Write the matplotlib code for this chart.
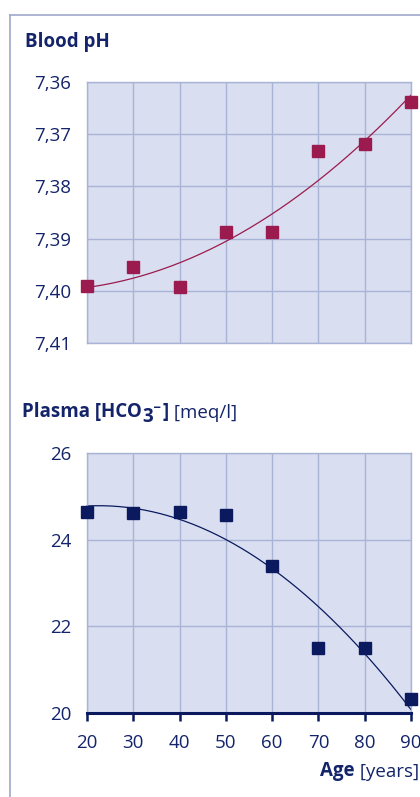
import numpy as np
import matplotlib.pyplot as plt
from matplotlib.lines import Line2D
from matplotlib.ticker import FuncFormatter

# Age groups and measured values
age = [20, 30, 40, 50, 60, 70, 80, 90]
blood_ph = [7.399, 7.3954, 7.3993, 7.3887, 7.3887, 7.3732, 7.3719, 7.3638]
hco3 = [24.65, 24.61, 24.65, 24.56, 23.40, 21.51, 21.51, 20.32]

ph_ticks = [7.36, 7.37, 7.38, 7.39, 7.40, 7.41]
hco3_ticks = [20, 22, 24, 26]

navy = '#14246a'
crimson = '#9b1b4e'
marker_navy = '#0b1a5e'
bg = '#d9dff1'
grid_col = '#a9b3d5'
frame_col = '#9ea8cc'

plt.rcParams['font.family'] = ['Open Sans', 'DejaVu Sans']

fig = plt.figure(figsize=(4.2, 7.97), dpi=100)

# outer frame (left and top edge)
fig.add_artist(Line2D([10 / 420, 1.0], [1 - 15 / 797, 1 - 15 / 797],
                      transform=fig.transFigure, color=frame_col, lw=1.2))
fig.add_artist(Line2D([10 / 420, 10 / 420], [0, 1 - 15 / 797],
                      transform=fig.transFigure, color=frame_col, lw=1.2))

comma = FuncFormatter(lambda v, pos: ('%.2f' % v).replace('.', ','))


def style_axes(ax):
    ax.set_facecolor(bg)
    ax.set_xlim(20, 90)
    ax.set_xticks(age)
    ax.grid(True, color=grid_col, lw=1.0)
    ax.set_axisbelow(True)
    for s in ax.spines.values():
        s.set_color(grid_col)
        s.set_linewidth(1.0)
    ax.tick_params(axis='y', length=0, pad=11.5, labelsize=13.5, labelcolor=navy)


xs = np.linspace(20, 90, 200)

# Blood pH
ax1 = fig.add_axes([87 / 420, 1 - 343 / 797, 324 / 420, 261 / 797])
style_axes(ax1)
ax1.set_ylim(7.41, 7.36)
ax1.set_yticks(ph_ticks)
ax1.yaxis.set_major_formatter(comma)
ax1.tick_params(axis='x', length=0, labelbottom=False)
fit1 = np.polyfit(age, blood_ph, 2)
ax1.plot(xs, np.polyval(fit1, xs), color=crimson, lw=0.9, clip_on=False)
ax1.plot(age, blood_ph, 's', color=crimson, ms=8, clip_on=False, zorder=5)
fig.text(25 / 420, 1 - 42 / 797, 'Blood pH', fontsize=13.5, fontweight='bold',
         color=navy, va='center')

# Plasma bicarbonate
ax2 = fig.add_axes([87 / 420, 1 - 713 / 797, 324 / 420, 260 / 797])
style_axes(ax2)
ax2.set_ylim(20, 26)
ax2.set_yticks(hco3_ticks)
fit2 = np.polyfit(age, hco3, 2)
ax2.plot(xs, np.polyval(fit2, xs), color=marker_navy, lw=0.9, clip_on=False)
ax2.plot(age, hco3, 's', color=marker_navy, ms=8, clip_on=False, zorder=5)
ax2.spines['bottom'].set_color(marker_navy)
ax2.spines['bottom'].set_linewidth(2.2)
ax2.tick_params(axis='x', direction='out', length=6, width=1.8, color=marker_navy,
                labelsize=13.5, labelcolor=navy, pad=9)

head = fig.text(22 / 420, 1 - 412 / 797, 'Plasma [HCO', fontsize=13.5,
                fontweight='bold', color=navy, va='center')
sub = ax2.annotate('3', xy=(1, 0), xycoords=head, xytext=(0.3, -3.5),
                   textcoords='offset points', fontsize=13.5, fontweight='bold',
                   color=navy, va='bottom')
# superscript charge sign, drawn as a short bar right of the subscript
ax2.annotate('\u00af', xy=(1, 0), xycoords=sub, xytext=(0.8, 4.0),
             textcoords='offset points', fontsize=9, fontweight='bold',
             color=navy, ha='left', va='bottom')
br = ax2.annotate(']', xy=(1, 0), xycoords=sub, xytext=(7.0, 3.5),
                  textcoords='offset points', fontsize=13.5, fontweight='bold',
                  color=navy, va='bottom')
ax2.annotate(' [meq/l]', xy=(1, 0), xycoords=br, xytext=(0, 0),
             textcoords='offset points', fontsize=13.5, color=navy, va='bottom')

# x axis title
unit = fig.text(419 / 420, 1 - 772 / 797, ' [years]', fontsize=13.5, color=navy,
                ha='right', va='center')
ax2.annotate('Age', xy=(0, 0), xycoords=unit, xytext=(0, 0),
             textcoords='offset points', fontsize=13.5, fontweight='bold',
             color=navy, ha='right', va='bottom')

fig.savefig('out.png', dpi=100)
